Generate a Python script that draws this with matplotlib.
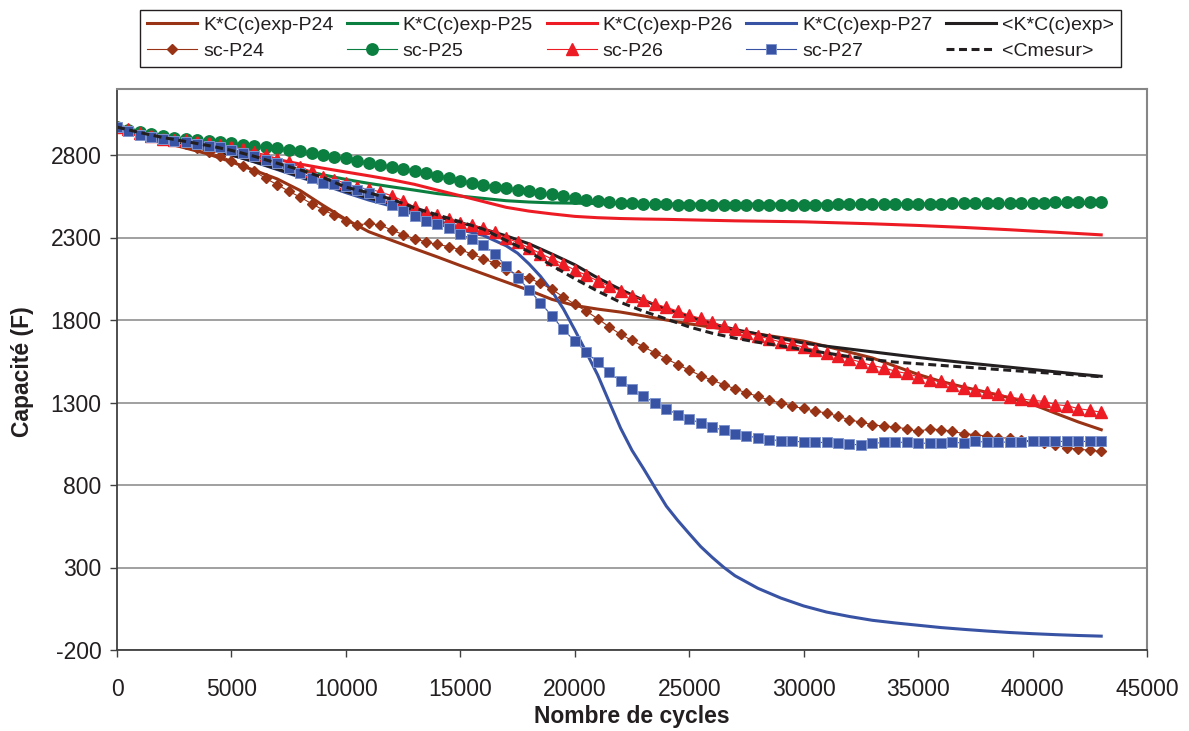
import numpy as np
import matplotlib
matplotlib.use("Agg")
import matplotlib.pyplot as plt

plt.rcParams['font.family'] = ['Liberation Sans', 'DejaVu Sans']
plt.rcParams['axes.unicode_minus'] = False

# ---------------- data ----------------
cycles_sc = np.arange(0, 43001, 500)      # measured points (markers)
cycles_k = np.arange(0, 43001, 1000)      # model curves

sc_p24 = [2970, 2950, 2935, 2920, 2905, 2888, 2868, 2843, 2816, 2796,
          2766, 2735, 2701, 2658, 2620, 2581, 2545, 2505, 2468, 2436,
          2401, 2376, 2385, 2376, 2345, 2318, 2292, 2273, 2258, 2245,
          2226, 2200, 2172, 2144, 2105, 2075, 2055, 2022, 1986, 1940,
          1895, 1854, 1808, 1759, 1713, 1676, 1638, 1601, 1565, 1530,
          1496, 1463, 1435, 1409, 1383, 1358, 1338, 1313, 1298, 1277,
          1264, 1247, 1237, 1216, 1196, 1180, 1166, 1156, 1152, 1140,
          1125, 1140, 1135, 1125, 1111, 1105, 1095, 1085, 1085, 1075,
          1064, 1055, 1044, 1024, 1018, 1010, 1004]
sc_p25 = [2970, 2952, 2938, 2925, 2915, 2905, 2897, 2890, 2883, 2876,
          2870, 2863, 2852, 2847, 2840, 2830, 2822, 2810, 2802, 2790,
          2779, 2763, 2751, 2740, 2730, 2715, 2705, 2691, 2674, 2658,
          2644, 2630, 2618, 2609, 2598, 2589, 2581, 2572, 2562, 2552,
          2538, 2529, 2522, 2517, 2512, 2508, 2505, 2503, 2502, 2500,
          2498, 2497, 2496, 2496, 2496, 2497, 2497, 2498, 2498, 2499,
          2499, 2500, 2500, 2501, 2501, 2502, 2502, 2503, 2503, 2504,
          2505, 2505, 2506, 2507, 2507, 2508, 2509, 2509, 2510, 2511,
          2511, 2512, 2513, 2513, 2514, 2515, 2516]
sc_p26 = [2970, 2955, 2935, 2915, 2900, 2892, 2888, 2878, 2871, 2863,
          2850, 2836, 2818, 2802, 2778, 2755, 2727, 2701, 2666, 2648,
          2630, 2604, 2593, 2577, 2553, 2522, 2485, 2456, 2436, 2411,
          2390, 2378, 2358, 2332, 2298, 2270, 2237, 2203, 2170, 2138,
          2103, 2071, 2037, 2006, 1975, 1948, 1923, 1897, 1877, 1854,
          1830, 1810, 1786, 1761, 1743, 1722, 1704, 1686, 1666, 1652,
          1636, 1619, 1601, 1581, 1565, 1544, 1524, 1510, 1490, 1476,
          1456, 1439, 1429, 1405, 1389, 1374, 1364, 1352, 1334, 1322,
          1313, 1307, 1287, 1281, 1263, 1253, 1241]
sc_p27 = [2968, 2945, 2923, 2911, 2897, 2887, 2877, 2867, 2856, 2847,
          2828, 2810, 2796, 2768, 2750, 2722, 2693, 2662, 2630, 2622,
          2612, 2587, 2567, 2537, 2500, 2462, 2430, 2400, 2381, 2355,
          2320, 2292, 2255, 2200, 2128, 2057, 1984, 1905, 1824, 1743,
          1672, 1605, 1544, 1484, 1429, 1383, 1338, 1298, 1261, 1227,
          1200, 1176, 1152, 1131, 1111, 1099, 1085, 1075, 1069, 1064,
          1062, 1058, 1058, 1055, 1046, 1044, 1052, 1058, 1060, 1058,
          1055, 1052, 1055, 1058, 1055, 1064, 1060, 1060, 1060, 1060,
          1066, 1064, 1064, 1064, 1064, 1064, 1068]

k_p24 = [2968, 2925, 2878, 2842, 2805, 2758, 2707, 2655, 2585, 2495,
         2410, 2335, 2283, 2232, 2182, 2130, 2080, 2030, 1980, 1925,
         1888, 1866, 1848, 1825, 1800, 1777, 1756, 1736, 1715, 1694,
         1672, 1640, 1605, 1570, 1520, 1470, 1428, 1393, 1362, 1328,
         1289, 1235, 1182, 1135]
k_p25 = [2968, 2930, 2900, 2870, 2838, 2805, 2772, 2740, 2710, 2680,
         2652, 2628, 2607, 2587, 2566, 2551, 2537, 2523, 2515, 2510,
         2508, 2506, 2505, 2504, 2503, 2503, 2503, 2503, 2503, 2503,
         2503, 2503, 2503, 2503, 2504, 2504, 2504, 2505, 2505, 2505,
         2505, 2506, 2506, 2506]
k_p26 = [2968, 2932, 2905, 2880, 2855, 2830, 2803, 2773, 2745, 2720,
         2697, 2674, 2650, 2622, 2587, 2553, 2518, 2483, 2460, 2443,
         2428, 2420, 2415, 2412, 2410, 2407, 2404, 2401, 2399, 2397,
         2395, 2391, 2387, 2383, 2378, 2373, 2367, 2361, 2354, 2347,
         2339, 2332, 2324, 2316]
# P27 model curve is read more finely where it falls steeply
cycles_k27 = [0, 1000, 2000, 3000, 4000, 5000, 6000, 7000, 8000, 9000,
              10000, 11000, 12000, 13000, 14000, 15000, 16000, 17000,
              17500, 18000, 18500, 19000, 19500, 20000, 20500, 21000,
              21500, 22000, 22500, 23000, 23500, 24000, 24500, 25000,
              25500, 26000, 26500, 27000, 28000, 29000, 30000, 31000,
              32000, 33000, 34000, 35000, 36000, 37000, 38000, 39000,
              40000, 41000, 42000, 43000]
k_p27 = [2968, 2928, 2900, 2873, 2840, 2800, 2758, 2712, 2665, 2620,
         2572, 2527, 2490, 2450, 2405, 2348, 2313, 2250,
         2205, 2140, 2065, 1975, 1868, 1740, 1605, 1467,
         1305, 1145, 1010, 900, 785, 672, 585, 505,
         427, 362, 302, 250, 174, 115, 67, 30,
         3, -20, -36, -50, -64, -75, -85, -94,
         -101, -107, -112, -116]
k_mean = [2968, 2930, 2898, 2868, 2836, 2800, 2760, 2715, 2670, 2625,
          2580, 2540, 2505, 2468, 2425, 2390, 2352, 2310, 2262, 2200,
          2135, 2055, 1985, 1920, 1865, 1820, 1778, 1742, 1715, 1688,
          1660, 1641, 1624, 1607, 1590, 1573, 1557, 1542, 1528, 1514,
          1500, 1486, 1472, 1459]
c_mesur = [2969, 2936, 2906, 2882, 2857, 2828, 2792, 2750, 2710, 2664,
           2605, 2571, 2532, 2480, 2437, 2395, 2351, 2282, 2214, 2130,
           2050, 1975, 1907, 1853, 1806, 1758, 1720, 1690, 1665, 1643,
           1620, 1600, 1578, 1560, 1545, 1535, 1525, 1515, 1505, 1495,
           1485, 1476, 1466, 1456]

x_ticks = list(range(0, 45001, 5000))
y_ticks = [-200, 300, 800, 1300, 1800, 2300, 2800]

# ---------------- style ----------------
BROWN = '#993316'
GREEN = '#0b7f3f'
RED = '#ed1c24'
BLUE = '#3953a4'
BLACK = '#231f20'
GRID = '#868686'

fig = plt.figure(figsize=(11.89, 7.31), dpi=100)
W, H = 1189, 731
ax = fig.add_axes([117 / W, 1 - 650 / H, (1147 - 117) / W, (650 - 89) / H])

lw_k = 2.2
lw_sc = 0.8
h = {}
h['k24'], = ax.plot(cycles_k, k_p24, color=BROWN, lw=lw_k, label='K*C(c)exp-P24')
h['k25'], = ax.plot(cycles_k, k_p25, color=GREEN, lw=lw_k, label='K*C(c)exp-P25')
h['k26'], = ax.plot(cycles_k, k_p26, color=RED, lw=lw_k, label='K*C(c)exp-P26')
h['k27'], = ax.plot(cycles_k27, k_p27, color=BLUE, lw=lw_k, label='K*C(c)exp-P27')
h['km'], = ax.plot(cycles_k, k_mean, color=BLACK, lw=lw_k, label='<K*C(c)exp>')
h['s24'], = ax.plot(cycles_sc, sc_p24, color=BROWN, lw=lw_sc, marker='D', ms=5.5,
                    mfc=BROWN, mec=BROWN, label='sc-P24')
h['s25'], = ax.plot(cycles_sc, sc_p25, color=GREEN, lw=lw_sc, marker='o', ms=8.2,
                    mfc=GREEN, mec=GREEN, label='sc-P25')
h['s26'], = ax.plot(cycles_sc, sc_p26, color=RED, lw=lw_sc, marker='^', ms=8.7,
                    mfc=RED, mec=RED, label='sc-P26')
h['s27'], = ax.plot(cycles_sc, sc_p27, color=BLUE, lw=lw_sc, marker='s', ms=7.0,
                    mfc=BLUE, mec='#7f93cc', mew=0.7, label='sc-P27')
h['cm'], = ax.plot(cycles_k, c_mesur, color=BLACK, lw=lw_k, ls=(0, (2.6, 1.5)),
                   label='<Cmesur>')

ax.set_xlim(0, 45000)
ax.set_ylim(-200, 3200)
ax.set_xticks(x_ticks)
ax.set_yticks(y_ticks)
ax.yaxis.grid(True, color=GRID, lw=1.1)
ax.set_axisbelow(True)
ax.tick_params(axis='both', direction='out', length=5, width=1.0,
               color='#404040', labelsize=16.5, labelcolor=BLACK)
ax.tick_params(axis='x', pad=15)
ax.tick_params(axis='y', pad=6)
for s in ['left', 'bottom']:
    ax.spines[s].set_color('#404040')
    ax.spines[s].set_linewidth(1.3)
for s in ['top', 'right']:
    ax.spines[s].set_color(GRID)
    ax.spines[s].set_linewidth(1.5)

fig.text(632 / W, 1 - 716 / H, 'Nombre de cycles', ha='center', va='center',
         fontsize=16.5, fontweight='bold', color=BLACK)
fig.text(22 / W, 1 - 372 / H, 'Capacité (F)', ha='center', va='center',
         rotation=90, fontsize=16.5, fontweight='bold', color=BLACK)

order = ['k24', 's24', 'k25', 's25', 'k26', 's26', 'k27', 's27', 'km', 'cm']
leg = fig.legend([h[k] for k in order], [h[k].get_label() for k in order],
                 loc='center', bbox_to_anchor=(630.5 / W, 1 - 38 / H),
                 bbox_transform=fig.transFigure, ncol=5, fontsize=14,
                 frameon=True, fancybox=False, framealpha=1, edgecolor=BLACK,
                 borderpad=0.35, labelspacing=0.42, handlelength=2.57,
                 handletextpad=0.3, columnspacing=0.7, borderaxespad=0)
leg.get_frame().set_linewidth(1.0)
for t in leg.get_texts():
    t.set_color(BLACK)

fig.savefig('out.png', dpi=100)
